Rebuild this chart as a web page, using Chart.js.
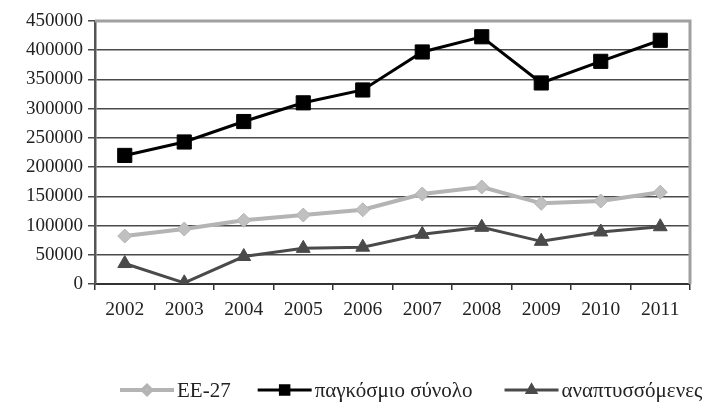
<!DOCTYPE html>
<html><head><meta charset="utf-8">
<script src="https://cdn.jsdelivr.net/npm/chart.js@4.4.0/dist/chart.umd.min.js"></script>
<style>html,body{margin:0;padding:0;background:#fff}#c{display:block}</style>
</head><body>
<canvas id="c" width="704" height="406"></canvas>
<script>
const years = ['2002','2003','2004','2005','2006','2007','2008','2009','2010','2011'];
const eu27 = [82000,94000,109000,118000,127000,154000,166000,138000,142000,157000];
const world = [220000,243000,278000,310000,332000,397000,423000,344000,381000,417000];
const developing = [35000,2000,47000,61000,63000,85000,97000,73000,89000,98000];
const seriesNames = ['EE-27','παγκόσμιο σύνολο','αναπτυσσόμενες'];
const yTicks = [0,50000,100000,150000,200000,250000,300000,350000,400000,450000];

const FONT = "'Liberation Serif','Times New Roman',serif";

const frame = {
  id:'frame',
  beforeDatasetsDraw(chart){
    const a = chart.chartArea, ctx = chart.ctx;
    ctx.save();
    ctx.strokeStyle = '#a0a0a0'; ctx.lineWidth = 3;
    ctx.beginPath();
    ctx.moveTo(a.left, a.top); ctx.lineTo(a.right, a.top); ctx.lineTo(a.right, a.bottom);
    ctx.stroke();
    ctx.restore();
  }
};

const legendPlugin = {
  id:'customLegend',
  afterDraw(chart){
    const ctx = chart.ctx;
    ctx.save();
    ctx.font = "21px " + FONT;
    ctx.textBaseline = 'middle';
    let x = 120; const y = 390; const gaps = [27, 32, 0];
    chart.data.datasets.forEach((ds, i) => {
      ctx.strokeStyle = ds.borderColor; ctx.lineWidth = ds.borderWidth;
      ctx.beginPath(); ctx.moveTo(x, y); ctx.lineTo(x + 54, y); ctx.stroke();
      ctx.fillStyle = ds.pointBackgroundColor;
      ctx.strokeStyle = ds.pointBorderColor;
      Chart.helpers.drawPoint(ctx, {pointStyle: ds.pointStyle, radius: ds.pointRadius*0.6, borderWidth:1}, x + 27, y);
      ctx.fillStyle = '#222';
      ctx.fillText(ds.label, x + 57, y + 1);
      x += 57 + ctx.measureText(ds.label).width + gaps[i];
    });
    ctx.restore();
  }
};

new Chart(document.getElementById('c'), {
  type:'line',
  data:{
    labels: years,
    datasets:[
      {label: seriesNames[0], data: eu27, borderColor:'#b4b4b4', backgroundColor:'#b4b4b4', borderWidth:4,
       pointStyle:'rectRot', pointRadius:7, pointBackgroundColor:'#c0c0c0', pointBorderColor:'#b4b4b4', pointBorderWidth:1},
      {label: seriesNames[1], data: world, borderColor:'#000', backgroundColor:'#000', borderWidth:3,
       pointStyle:'rect', pointRadius:10, pointBackgroundColor:'#000', pointBorderColor:'#000', pointBorderWidth:1},
      {label: seriesNames[2], data: developing, borderColor:'#4a4a4a', backgroundColor:'#4a4a4a', borderWidth:3,
       pointStyle:'triangle', pointRadius:8, pointBackgroundColor:'#4a4a4a', pointBorderColor:'#4a4a4a', pointBorderWidth:1}
    ]
  },
  options:{
    responsive:false,
    animation:false,
    devicePixelRatio:1,
    layout:{padding:{top:21,right:14,left:0,bottom:0}},
    plugins:{legend:{display:false}, tooltip:{enabled:false}},
    elements:{line:{tension:0}},
    scales:{
      x:{
        offset:true,
        grid:{offset:true, drawOnChartArea:false, tickLength:6, color:'#333', lineWidth:1.5},
        border:{color:'#333', width:2},
        ticks:{color:'#222', font:{family:FONT, size:19.5}, padding:8, maxRotation:0},
        afterFit(s){ s.height = 122; }
      },
      y:{
        min:0, max:450000,
        afterBuildTicks(s){ s.ticks = yTicks.map(v => ({value:v})); },
        grid:{color:'#4a4a4a', lineWidth:1.5, tickLength:7},
        border:{color:'#555', width:2.5},
        ticks:{color:'#222', font:{family:FONT, size:19}, padding:5, callback:v => String(v)},
        afterFit(s){ s.width = 95; }
      }
    }
  },
  plugins:[frame, legendPlugin]
});
</script>
</body></html>
